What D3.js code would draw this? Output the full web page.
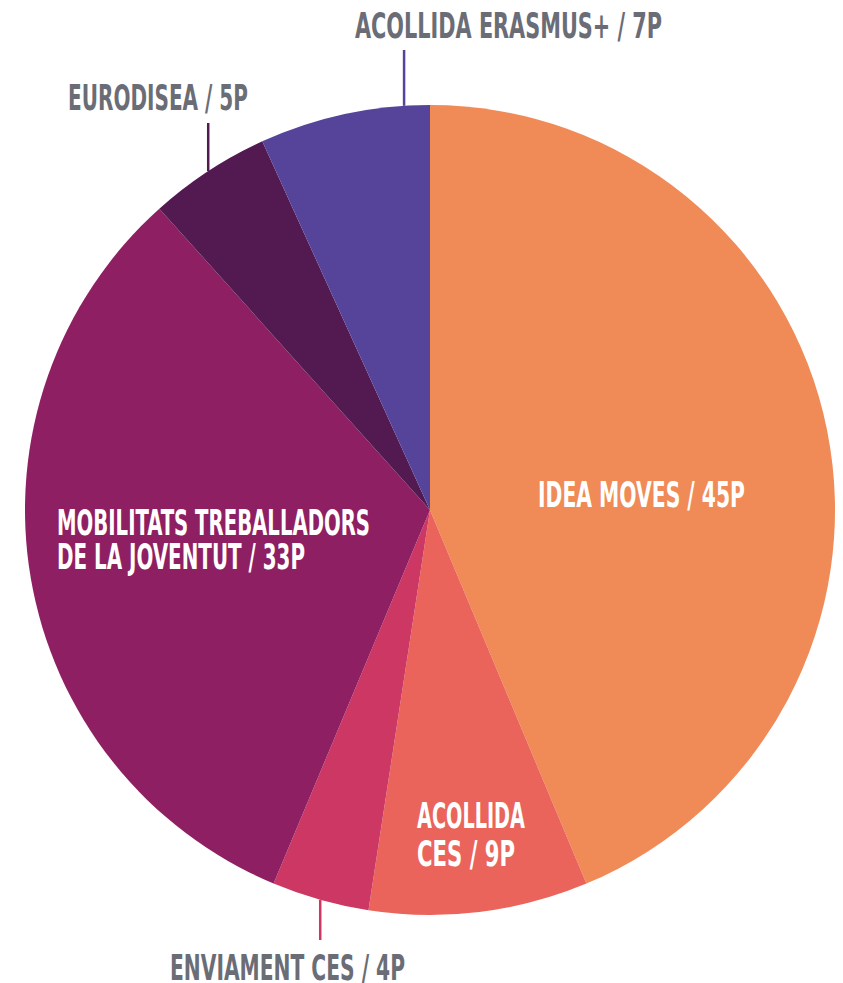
<!DOCTYPE html>
<html><head><meta charset="utf-8">
<script src="https://cdn.jsdelivr.net/npm/d3@7"></script>
<style>
html,body{margin:0;padding:0;background:#fff;}
text{font-family:"Liberation Sans Narrow","DejaVu Sans Condensed","Liberation Sans",sans-serif;font-weight:bold;}
</style></head>
<body>
<svg id="c" width="843" height="983"></svg>
<script>
const categories = ["IDEA MOVES","ACOLLIDA CES","ENVIAMENT CES","MOBILITATS TREBALLADORS DE LA JOVENTUT","EURODISEA","ACOLLIDA ERASMUS+"];
const values = [45, 9, 4, 33, 5, 7];
const valueLabels = ["45P","9P","4P","33P","5P","7P"];
const colors = ["#F08A56","#EA645C","#CD3763","#8E1F62","#531A52","#56439A"];

const W = 843, H = 983, cx = 430, cy = 510, R = 405;
const svg = d3.select("#c");
const g = svg.append("g").attr("transform", `translate(${cx},${cy})`);

const pie = d3.pie().sort(null).value(d => d.v);
const data = pie(categories.map((c,i)=>({c, v:values[i], col:colors[i]})));
const arc = d3.arc().innerRadius(0).outerRadius(R);

g.selectAll("path").data(data).enter().append("path")
  .attr("d", arc).attr("fill", d => d.data.col);

// label layout (inside: white; outside: gray with leader line)
const layout = [
  {i:0, inside:true, lines:[{t:"IDEA MOVES / "+valueLabels[0], x:538, y:507, w:207}]},
  {i:1, inside:true, lines:[{t:"ACOLLIDA", x:417, y:828, w:108},{t:"CES / "+valueLabels[1], x:417, y:866, w:98}]},
  {i:2, inside:false, frac:0.5, end:940, lines:[{t:"ENVIAMENT CES / "+valueLabels[2], x:170, y:980, w:235}]},
  {i:3, inside:true, lines:[{t:"MOBILITATS TREBALLADORS", x:57, y:535, w:313},{t:"DE LA JOVENTUT / "+valueLabels[3], x:57, y:569, w:248}]},
  {i:4, inside:false, frac:0.5, end:123, lines:[{t:"EURODISEA / "+valueLabels[4], x:68, y:110, w:180}]},
  {i:5, inside:false, frac:0.85, end:50, lines:[{t:"ACOLLIDA ERASMUS+ / "+valueLabels[5], x:355, y:38, w:307}]}
];

layout.forEach(L => {
  const d = data[L.i];
  if (!L.inside) {
    const a = d.startAngle + (d.endAngle - d.startAngle) * L.frac;
    const px = cx + R * Math.sin(a), py = cy - R * Math.cos(a);
    svg.append("line").attr("x1", px).attr("x2", px)
      .attr("y1", py).attr("y2", L.end)
      .attr("stroke", d.data.col).attr("stroke-width", 2.5);
  }
  L.lines.forEach(ln => {
    svg.append("text").attr("x", ln.x).attr("y", ln.y)
      .attr("font-size", 36)
      .attr("fill", L.inside ? "#ffffff" : "#6B6D76")
      .attr("textLength", ln.w).attr("lengthAdjust", "spacingAndGlyphs")
      .text(ln.t);
  });
});
</script>
</body></html>
